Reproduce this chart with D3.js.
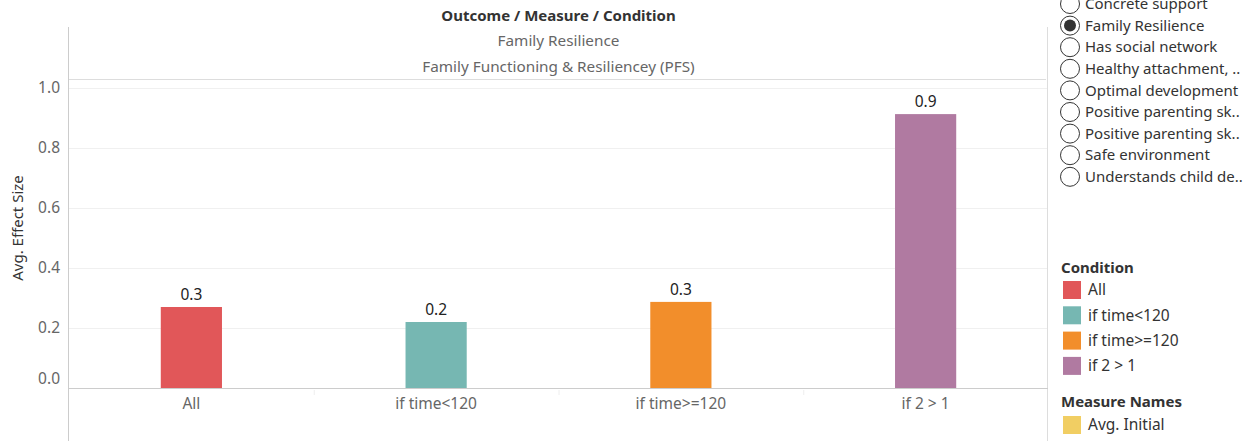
<!DOCTYPE html>
<html>
<head>
<meta charset="utf-8">
<script src="https://cdn.jsdelivr.net/npm/d3@7"></script>
<style>
  body { margin: 0; background: #fff; font-family: "Noto Sans", sans-serif; }
  svg text { font-family: "Noto Sans", sans-serif; }
</style>
</head>
<body>
<div id="chart"></div>
<script>
// Width and height
const WIDTH = 1255;
const HEIGHT = 441;

// Data
const conditions = ["All", "if time<120", "if time>=120", "if 2 > 1"];
const effectSizes = [0.27, 0.22, 0.287, 0.913];
const conditionColors = ["#E15759", "#76B7B2", "#F28E2B", "#B07AA1"];
const yTicks = [0.0, 0.2, 0.4, 0.6, 0.8, 1.0];
const outcomes = [
  "Concrete support",
  "Family Resilience",
  "Has social network",
  "Healthy attachment, ..",
  "Optimal development",
  "Positive parenting sk..",
  "Positive parenting sk..",
  "Safe environment",
  "Understands child de.."
];
const selectedOutcome = "Family Resilience";
const measureNames = ["Avg. Initial"];
const measureColors = ["#F1CE63"];

// Plot area
const LEFT = 69;
const RIGHT = 1048;
const ZERO_Y = 388;

const svg = d3
  .select("#chart")
  .append("svg")
  .attr("width", WIDTH)
  .attr("height", HEIGHT);

const x = d3.scaleBand().domain(conditions).range([LEFT, RIGHT]).padding(0);
const y = d3.scaleLinear().domain([0, 1]).range([ZERO_Y, ZERO_Y - 300]);
const color = d3.scaleOrdinal().domain(conditions).range(conditionColors);

// Header
const header = svg.append("g").attr("text-anchor", "middle");
const midX = (LEFT + RIGHT) / 2;
header.append("text").attr("x", midX).attr("y", 21)
  .attr("font-size", 15).attr("font-weight", "bold").attr("fill", "#333")
  .text("Outcome / Measure / Condition");
header.append("text").attr("x", midX).attr("y", 46)
  .attr("font-size", 15.3).attr("fill", "#666").text(selectedOutcome);
header.append("text").attr("x", midX).attr("y", 72)
  .attr("font-size", 15.3).attr("fill", "#666")
  .text("Family Functioning & Resiliencey (PFS)");

svg.append("line").attr("x1", LEFT).attr("x2", RIGHT - 2)
  .attr("y1", 79.5).attr("y2", 79.5).attr("stroke", "#ddd");

// Gridlines
svg.append("g")
  .selectAll("line")
  .data(yTicks)
  .enter()
  .append("line")
  .attr("x1", LEFT)
  .attr("x2", RIGHT)
  .attr("y1", (d) => Math.round(y(d)) + 0.5)
  .attr("y2", (d) => Math.round(y(d)) + 0.5)
  .attr("stroke", "#f0f0f0");

// Y axis
const yAxis = svg.append("g")
  .attr("transform", "translate(" + LEFT + ",0)")
  .call(d3.axisLeft(y).tickValues(yTicks).tickFormat(d3.format(".1f")).tickSize(0).tickPadding(9));
yAxis.select(".domain").remove();
yAxis.selectAll("text")
  .attr("font-size", 15.5)
  .attr("fill", "#666")
  .attr("dy", (d) => (d === 0 ? "-0.3em" : "0.32em"));

svg.append("text")
  .attr("transform", "translate(23,228) rotate(-90)")
  .attr("text-anchor", "middle")
  .attr("font-size", 15)
  .attr("fill", "#333")
  .text("Avg. Effect Size");

// Vertical frame lines
svg.append("line").attr("x1", LEFT - 0.5).attr("x2", LEFT - 0.5)
  .attr("y1", 27).attr("y2", HEIGHT).attr("stroke", "#ccc");
svg.append("line").attr("x1", RIGHT - 0.5).attr("x2", RIGHT - 0.5)
  .attr("y1", 27).attr("y2", HEIGHT).attr("stroke", "#ddd");

// Bars
svg.append("g")
  .selectAll("rect")
  .data(conditions)
  .enter()
  .append("rect")
  .attr("x", (d) => x(d) + x.bandwidth() * 0.375)
  .attr("width", x.bandwidth() * 0.25)
  .attr("y", (d, i) => y(effectSizes[i]))
  .attr("height", (d, i) => y(0) - y(effectSizes[i]))
  .attr("fill", (d) => color(d));

// Bar labels
svg.append("g")
  .selectAll("text")
  .data(conditions)
  .enter()
  .append("text")
  .attr("x", (d) => x(d) + x.bandwidth() / 2)
  .attr("y", (d, i) => y(effectSizes[i]) - 7)
  .attr("text-anchor", "middle")
  .attr("font-size", 15.5)
  .attr("fill", "#222")
  .text((d, i) => d3.format(".1f")(effectSizes[i]));

// X axis
svg.append("line").attr("x1", LEFT).attr("x2", RIGHT)
  .attr("y1", ZERO_Y + 0.5).attr("y2", ZERO_Y + 0.5).attr("stroke", "#ccc");
const xAxis = svg.append("g")
  .attr("transform", "translate(0," + (ZERO_Y + 1) + ")")
  .call(d3.axisBottom(x).tickSize(0).tickPadding(9));
xAxis.select(".domain").remove();
xAxis.selectAll("text").attr("font-size", 15.5).attr("fill", "#666");

// Separators between categories
svg.append("g")
  .selectAll("line")
  .data(conditions.slice(1))
  .enter()
  .append("line")
  .attr("x1", (d) => x(d) + 0.5)
  .attr("x2", (d) => x(d) + 0.5)
  .attr("y1", ZERO_Y + 2)
  .attr("y2", ZERO_Y + 7)
  .attr("stroke", "#eee");

// Radio list
const radio = svg.append("g").attr("transform", "translate(1070,0)");
const rows = radio.selectAll("g")
  .data(outcomes)
  .enter()
  .append("g")
  .attr("transform", (d, i) => "translate(0," + (4 + i * 21.6) + ")");
rows.append("circle").attr("r", 9.5).attr("fill", "#fff").attr("stroke", "#333").attr("stroke-width", 1);
rows.filter((d) => d === selectedOutcome)
  .append("circle").attr("r", 6).attr("fill", "#333");
rows.append("text").attr("x", 15).attr("dy", "0.35em")
  .attr("font-size", 15).attr("fill", "#333").text((d) => d);

// Condition legend
const leg = svg.append("g").attr("transform", "translate(1061,0)");
leg.append("text").attr("x", 0).attr("y", 273)
  .attr("font-size", 15).attr("font-weight", "bold").attr("fill", "#333").text("Condition");
const legRows = leg.selectAll(".cond")
  .data(conditions)
  .enter()
  .append("g")
  .attr("class", "cond")
  .attr("transform", (d, i) => "translate(0," + (290 + i * 25.3) + ")");
legRows.append("rect").attr("x", 2).attr("y", -9).attr("width", 18).attr("height", 18).attr("fill", (d) => color(d));
legRows.append("text").attr("x", 27).attr("dy", "0.35em")
  .attr("font-size", 15.5).attr("fill", "#333").text((d) => d);

// Measure names legend
leg.append("text").attr("x", 0).attr("y", 407)
  .attr("font-size", 15).attr("font-weight", "bold").attr("fill", "#333").text("Measure Names");
const mRows = leg.selectAll(".meas")
  .data(measureNames)
  .enter()
  .append("g")
  .attr("class", "meas")
  .attr("transform", (d, i) => "translate(0," + (425 + i * 25.3) + ")");
mRows.append("rect").attr("x", 2).attr("y", -9).attr("width", 18).attr("height", 18).attr("fill", (d, i) => measureColors[i]);
mRows.append("text").attr("x", 27).attr("dy", "0.35em")
  .attr("font-size", 15.5).attr("fill", "#333").text((d) => d);
</script>
</body>
</html>
